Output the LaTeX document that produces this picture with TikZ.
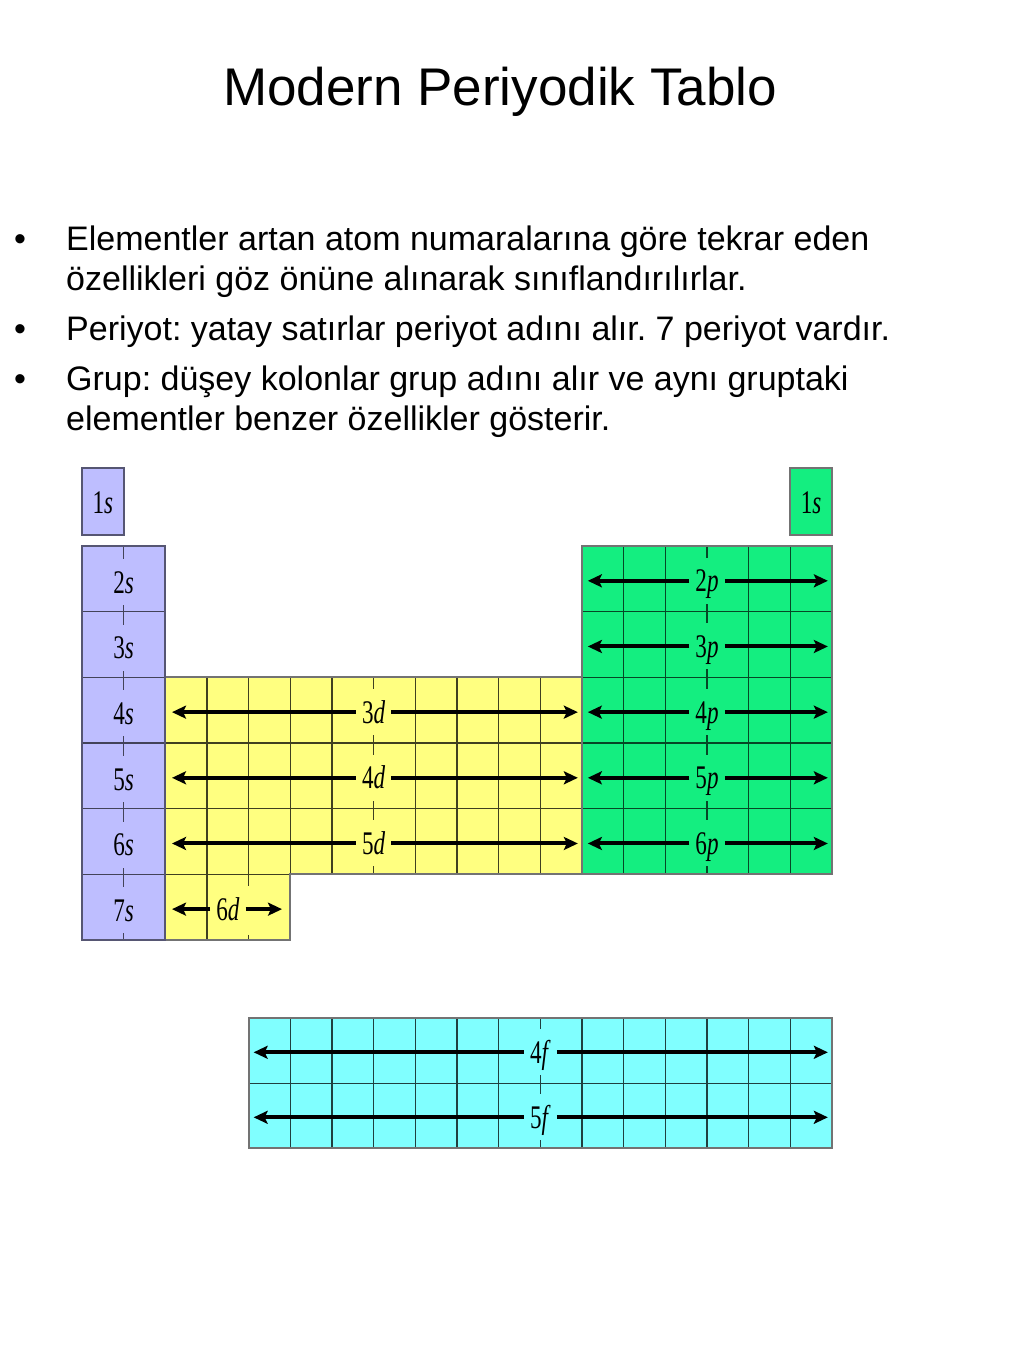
\documentclass[tikz,border=0pt]{standalone}
\usepackage{fontspec}
\setmainfont{Liberation Sans}
\newfontfamily\labfont{Liberation Serif}
\usetikzlibrary{arrows.meta}
\frenchspacing
\definecolor{sblk}{RGB}{190,190,255}
\definecolor{dblk}{RGB}{255,255,128}
\definecolor{pblk}{RGB}{20,238,128}
\definecolor{fblk}{RGB}{128,255,255}
\newcommand\orb[2]{\scalebox{0.7}[1]{#1\textit{#2}}}
\tikzset{
  txt/.style={inner sep=0pt, anchor=base west, font=\fontsize{34}{40}\selectfont},
  lab/.style={fill=#1, inner xsep=6pt, inner ysep=0pt, minimum height=46pt,
    text height=22pt, text depth=0pt, font=\labfont\fontsize{33}{33}\selectfont},
  arr/.style={line width=4pt, -{Stealth[length=14pt,width=13pt,inset=3pt]}},
  sgrid/.style={draw=sblk!35!black, line width=1.2pt},
  dgrid/.style={draw=dblk!25!black, line width=1.2pt},
  pgrid/.style={draw=pblk!30!black, line width=1.2pt},
  fgrid/.style={draw=fblk!25!black, line width=1.2pt},
  sbord/.style={draw=sblk!45!black, line width=1.8pt},
  obord/.style={draw=black!55, line width=1.8pt},
}
\begin{document}
\begin{tikzpicture}[x=1pt,y=-1pt]
\useasboundingbox (0,0) rectangle (1024,1365);
\node[inner sep=0pt, anchor=base, font=\fontsize{53}{53}\selectfont] (title) at (500,105) {Modern Periyodik Tablo};
\node[txt] (b1) at (14,250) {•};
\node[txt] (t1a) at (66,250) {Elementler artan atom numaralarına göre tekrar eden};
\node[txt] (t1b) at (66,290) {özellikleri göz önüne alınarak sınıflandırılırlar.};
\node[txt] (b2) at (14,340) {•};
\node[txt] (t2a) at (66,340) {Periyot: yatay satırlar periyot adını alır. 7 periyot vardır.};
\node[txt] (b3) at (14,390) {•};
\node[txt] (t3a) at (66,390) {Grup: düşey kolonlar grup adını alır ve aynı gruptaki};
\node[txt] (t3b) at (66,430) {elementler benzer özellikler gösterir.};

\begin{scope}[shift={(82pt,-546pt)}, x=41.667pt, y=-65.667pt]
% fills
\fill[sblk] (0,-1.19) rectangle (1,-0.17);
\fill[pblk] (17,-1.19) rectangle (18,-0.17);
\fill[sblk] (0,0) rectangle (2,6);
\fill[dblk] (2,2) -- (12,2) -- (12,5) -- (5,5) -- (5,6) -- (2,6) -- cycle;
\fill[pblk] (12,0) rectangle (18,5);
\fill[fblk] (4,7.19) rectangle (18,9.17);
% grid lines
\foreach \r in {1,...,5} \draw[sgrid] (0,\r) -- (2,\r);
\draw[sgrid] (1,0) -- (1,6);
\foreach \c in {3,...,11} \draw[dgrid] (\c,2) -- (\c,5);
\foreach \r in {3,4} \draw[dgrid] (2,\r) -- (12,\r);
\draw[dgrid] (2,5) -- (5,5);
\draw[dgrid] (3,5) -- (3,6);
\draw[dgrid] (4,5) -- (4,5.18) (4,5.92) -- (4,6);
\foreach \c in {13,...,17} \draw[pgrid] (\c,0) -- (\c,5);
\foreach \r in {1,...,4} \draw[pgrid] (12,\r) -- (18,\r);
\foreach \c in {5,...,17} \draw[fgrid] (\c,7.19) -- (\c,9.17);
\draw[fgrid] (4,8.18) -- (18,8.18);
% borders
\draw[sbord] (0,-1.19) rectangle (1,-0.17);
\draw[obord] (17,-1.19) rectangle (18,-0.17);
\draw[obord] (2,2) -- (12,2) -- (12,5) -- (5,5) -- (5,6) -- (2,6);
\draw[obord] (12,0) rectangle (18,5);
\draw[obord] (4,7.19) rectangle (18,9.17);
\draw[sbord] (0,0) rectangle (2,6);
% labels
\node[lab=sblk] (l1sL) at (0.5,-0.66) {\orb{1}{s}};
\node[lab=pblk] (l1sR) at (17.5,-0.66) {\orb{1}{s}};
\foreach \n/\r in {2/0,3/1,4/2,5/3,6/4,7/5}
  \node[lab=sblk] (l\n s) at (1,\r+0.55) {\orb{\n}{s}};
\foreach \n/\r in {3/2,4/3,5/4} {
  \node[lab=dblk] (l\n d) at (7,\r+0.53) {\orb{\n}{d}};
  \coordinate (l\n dL) at (2.16,\r+0.53);
  \coordinate (l\n dR) at (11.9,\r+0.53);
  \draw[arr] (l\n d.west) -- (l\n dL);
  \draw[arr] (l\n d.east) -- (l\n dR);
}
\node[lab=dblk] (l6d) at (3.5,5.53) {\orb{6}{d}};
\coordinate (l6dL) at (2.16,5.53);
\coordinate (l6dR) at (4.8,5.53);
\draw[arr] (l6d.west) -- (l6dL);
\draw[arr] (l6d.east) -- (l6dR);
\foreach \n/\r in {2/0,3/1,4/2,5/3,6/4} {
  \node[lab=pblk] (l\n p) at (15,\r+0.53) {\orb{\n}{p}};
  \coordinate (l\n pL) at (12.14,\r+0.53);
  \coordinate (l\n pR) at (17.9,\r+0.53);
  \draw[arr] (l\n p.west) -- (l\n pL);
  \draw[arr] (l\n p.east) -- (l\n pR);
}
\foreach \n/\r in {4/7.19,5/8.18} {
  \node[lab=fblk] (l\n f) at (11,\r+0.52) {\orb{\n}{f}};
  \coordinate (l\n fL) at (4.12,\r+0.52);
  \coordinate (l\n fR) at (17.9,\r+0.52);
  \draw[arr] (l\n f.west) -- (l\n fL);
  \draw[arr] (l\n f.east) -- (l\n fR);
}
\end{scope}
\end{tikzpicture}
\end{document}
